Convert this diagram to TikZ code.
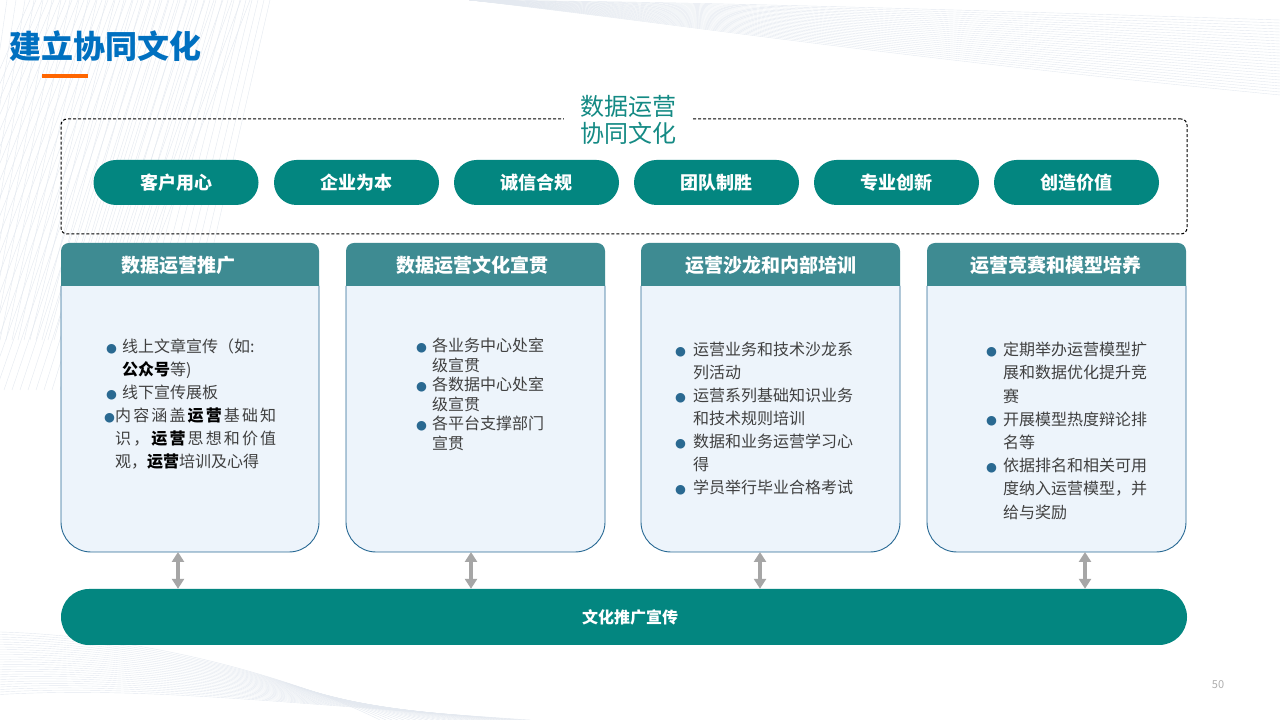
\documentclass[tikz,border=0pt]{standalone}
\usepackage{fontspec}
\setmainfont{Noto Sans CJK SC}
\newfontfamily\dejavu{DejaVu Sans}
\usetikzlibrary{arrows.meta,calc}
\definecolor{titleblue}{RGB}{0,112,192}
\definecolor{orangebar}{RGB}{255,102,0}
\definecolor{tealA}{RGB}{3,134,128}
\definecolor{headc}{RGB}{62,139,146}
\definecolor{bodyc}{RGB}{237,244,251}
\definecolor{bordc}{RGB}{40,105,148}
\definecolor{bulc}{RGB}{42,105,145}
\definecolor{txtc}{RGB}{64,64,64}
\definecolor{arrc}{RGB}{166,166,166}
\definecolor{bgl}{RGB}{228,233,240}
\definecolor{labc}{RGB}{20,138,132}
\definecolor{pgc}{RGB}{175,175,175}
\newcommand\bulg{\textcolor{bulc}{\fontsize{12.5pt}{12.5pt}\selectfont\dejavu\raisebox{0.6pt}{●}}}
\newcommand\bi[1]{\makebox[#1][l]{\bulg}}
\newcommand\ii[1]{\hspace*{#1}}
\newcommand\jg{\hskip 0pt plus 1fil\relax}
\newcommand\bk[1]{\textcolor{black}{\textbf{#1}}}
\begin{document}
\begin{tikzpicture}[x=1pt,y=1pt,
  bgline/.style={draw=bgl, line width=0.4pt},
  pill/.style={rectangle, rounded corners=22.5pt, fill=tealA, minimum width=165pt, minimum height=45pt, text=white, font=\fontsize{18pt}{18pt}\selectfont\bfseries, inner sep=0pt},
  headtxt/.style={text=white, font=\fontsize{19pt}{19pt}\selectfont\bfseries, inner sep=0pt},
  bodytxt/.style={anchor=north west, inner sep=0pt, align=left, text=txtc},
  dblarrow/.style={{Triangle[width=12pt,length=10pt]}-{Triangle[width=12pt,length=10pt]}, draw=arrc, line width=4pt},
  cardbody/.style={fill=bodyc, draw=bordc, line width=0.9pt},
  cardhead/.style={fill=headc},
  dashbox/.style={draw=black, dashed, dash pattern=on 3pt off 2pt, line width=1pt, rounded corners=6pt, minimum width=1126pt, minimum height=115pt, inner sep=0pt},
  barstyle/.style={rectangle, rounded corners=28pt, fill=tealA, minimum width=1126pt, minimum height=56pt, text=white, font=\fontsize{16pt}{16pt}\selectfont\bfseries, inner sep=0pt}
]
\useasboundingbox (0,0) rectangle (1280,720);
\fill[white] (0,0) rectangle (1280,720);
% background decoration
\begin{scope}
\clip (0,0) rectangle (1280,720);
\foreach \i in {0,...,40} \draw[bgline] ({-140+\i*8},330) -- ({30+\i*6},720);
\foreach \i in {0,...,30} \draw[bgline] ({-60+\i*6},380) -- ({-20+\i*9},720);
\foreach \i in {0,...,25} \draw[bgline] (0,{88-\i*2.5}) .. controls (150,{84-\i*2}) and (300,{40-\i}) .. ({380+\i*6},0);
\foreach \i in {0,...,25} \draw[bgline] (470,720) .. controls (700,{718-\i}) and (900,{712-\i*2}) .. (1280,{700-\i*3});
\end{scope}
% title
\node[anchor=west, inner sep=0pt, text=titleblue, font=\fontsize{32pt}{32pt}\selectfont\bfseries] (title) at (9,674) {建立协同文化};
\fill[orangebar] (42,642) rectangle (88,646);
% dashed frame
\node[dashbox] (frame) at (624,543.5) {};
\node[fill=white, text=labc, align=center, font=\fontsize{24pt}{27pt}\selectfont, inner xsep=16pt, inner ysep=1pt] (lab) at (628,600.5) {数据运营\\协同文化};
% pills
\foreach \x/\t/\n in {176/客户用心/1, 356.5/企业为本/2, 536.5/诚信合规/3, 716.5/团队制胜/4, 896.5/专业创新/5, 1076.5/创造价值/6}
  \node[pill] (p\n) at (\x,537.5) {\t};
% cards
\foreach \L/\R/\n/\hx/\t in {61/319/1/178/数据运营推广, 346/605/2/472/数据运营文化宣贯, 641/900/3/771/运营沙龙和内部培训, 927/1186/4/1056/运营竞赛和模型培养}{
  \filldraw[cardbody] (\L,434) -- (\L,198) arc[start angle=180,end angle=270,radius=30] -- (\R-30,168) arc[start angle=270,end angle=360,radius=30] -- (\R,434);
  \fill[cardhead] (\L,434) -- (\L,469) arc[start angle=180,end angle=90,radius=8] -- (\R-8,477) arc[start angle=90,end angle=0,radius=8] -- (\R,434) -- cycle;
  \node[headtxt] (h\n) at (\hx,455) {\t};
}
% card texts
\node[bodytxt, font=\fontsize{16pt}{23pt}\selectfont] (t1) at (104,381) {%
\ii{2pt}\bi{16pt}线上文章宣传（如:\\
\ii{18pt}\bk{公众号}等)\\
\ii{2pt}\bi{16pt}线下宣传展板\\
\bi{11pt}\makebox[161pt][s]{内\jg 容\jg 涵\jg 盖\jg\bk{运\jg 营}\jg 基\jg 础\jg 知}\\
\ii{11pt}\makebox[161pt][s]{识\jg ，\jg\bk{运\jg 营}\jg 思\jg 想\jg 和\jg 价\jg 值}\\
\ii{11pt}观，\bk{运营}培训及心得};
\node[bodytxt, font=\fontsize{16pt}{19.5pt}\selectfont] (t2) at (416,382) {%
\bi{16pt}各业务中心处室\\
\ii{16pt}级宣贯\\
\bi{16pt}各数据中心处室\\
\ii{16pt}级宣贯\\
\bi{16pt}各平台支撑部门\\
\ii{16pt}宣贯};
\node[bodytxt, font=\fontsize{16pt}{23pt}\selectfont] (t3) at (675,378) {%
\bi{18pt}运营业务和技术沙龙系\\
\ii{18pt}列活动\\
\bi{18pt}运营系列基础知识业务\\
\ii{18pt}和技术规则培训\\
\bi{18pt}数据和业务运营学习心\\
\ii{18pt}得\\
\bi{18pt}学员举行毕业合格考试};
\node[bodytxt, font=\fontsize{16pt}{23.2pt}\selectfont] (t4) at (986,378) {%
\bi{17pt}定期举办运营模型扩\\
\ii{17pt}展和数据优化提升竞\\
\ii{17pt}赛\\
\bi{17pt}开展模型热度辩论排\\
\ii{17pt}名等\\
\bi{17pt}依据排名和相关可用\\
\ii{17pt}度纳入运营模型，并\\
\ii{17pt}给与奖励};
% bottom bar
\node[barstyle] (bar) at (624,103) {\hspace*{12pt}文化推广宣传};
% arrows
\coordinate (a1) at (178,168);
\coordinate (a2) at (471,168);
\coordinate (a3) at (760,168);
\coordinate (a4) at (1085,168);
\foreach \n in {1,2,3,4} \draw[dblarrow] (a\n) -- (a\n |- bar.north);
% page number
\node[text=pgc, font=\fontsize{11pt}{11pt}\selectfont, inner sep=0pt] (pg) at (1218,35) {50};
\end{tikzpicture}
\end{document}
